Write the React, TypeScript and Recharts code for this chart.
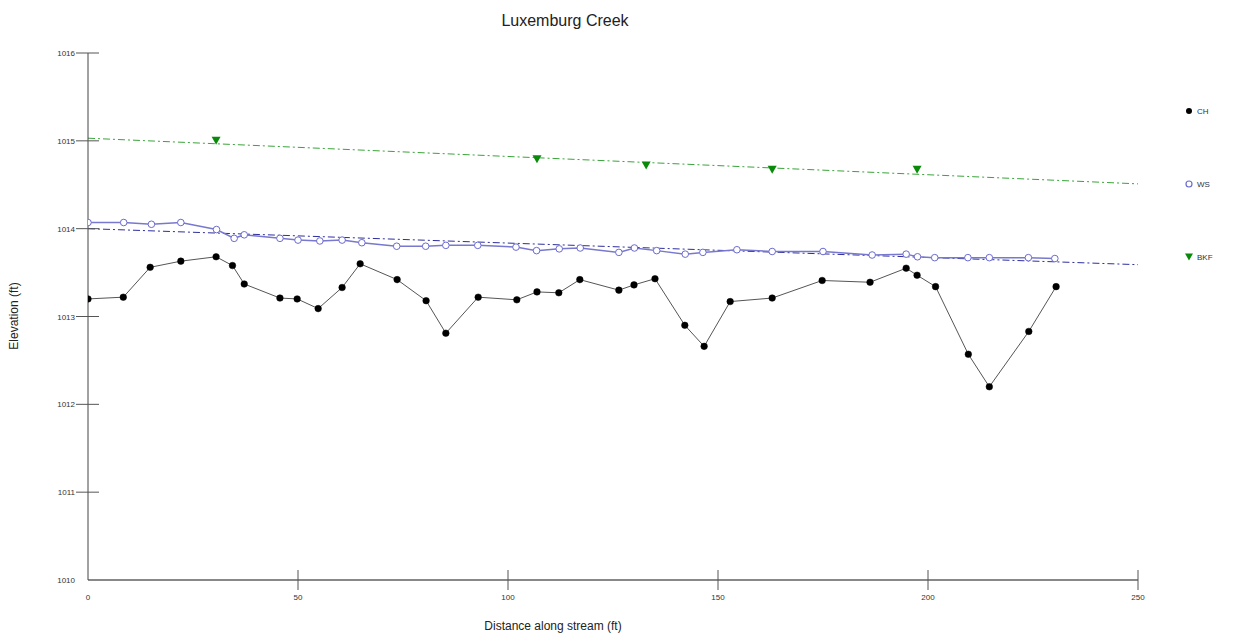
import React from "react";
import { LineChart, Line, XAxis, YAxis } from "recharts";

const chX = [0, 8.4, 14.8, 22.1, 30.5, 34.4, 37.2, 45.7, 49.8, 54.8, 60.5, 64.8, 73.6, 80.5, 85.2, 92.9, 102.1, 106.9, 112.1, 117.1, 126.4, 130.0, 135.0, 142.1, 146.7, 152.9, 162.9, 174.8, 186.2, 194.8, 197.4, 201.8, 209.6, 214.6, 224.0, 230.5];
const chY = [1013.2, 1013.22, 1013.56, 1013.63, 1013.68, 1013.58, 1013.37, 1013.21, 1013.2, 1013.09, 1013.33, 1013.6, 1013.42, 1013.18, 1012.81, 1013.22, 1013.19, 1013.28, 1013.27, 1013.42, 1013.3, 1013.36, 1013.43, 1012.9, 1012.66, 1013.17, 1013.21, 1013.41, 1013.39, 1013.55, 1013.47, 1013.34, 1012.57, 1012.2, 1012.83, 1013.34];

const wsX = [0, 8.5, 15.1, 22.1, 30.6, 34.8, 37.2, 45.7, 50.0, 55.2, 60.5, 65.2, 73.5, 80.4, 85.2, 92.8, 101.9, 106.8, 112.2, 117.2, 126.4, 130.1, 135.4, 142.2, 146.4, 154.5, 162.9, 175.0, 186.7, 194.8, 197.5, 201.6, 209.5, 214.6, 223.9, 230.2];
const wsY = [1014.07, 1014.07, 1014.05, 1014.07, 1013.99, 1013.89, 1013.93, 1013.89, 1013.87, 1013.86, 1013.87, 1013.84, 1013.8, 1013.8, 1013.81, 1013.81, 1013.79, 1013.75, 1013.77, 1013.78, 1013.73, 1013.78, 1013.75, 1013.71, 1013.73, 1013.76, 1013.74, 1013.74, 1013.7, 1013.71, 1013.68, 1013.67, 1013.67, 1013.67, 1013.67, 1013.66];

const bkfX = [30.5, 106.9, 132.9, 162.9, 197.4];
const bkfY = [1015.0, 1014.79, 1014.72, 1014.67, 1014.67];

const wsTrendX = [0, 250];
const wsTrendY = [1014.0, 1013.59];
const bkfTrendX = [0, 250];
const bkfTrendY = [1015.03, 1014.51];

const xTicks = [0, 50, 100, 150, 200, 250];
const yTicks = [1010, 1011, 1012, 1013, 1014, 1015, 1016];
const legendNames = ["CH", "WS", "BKF"];

const zip = (xs: number[], ys: number[]) => xs.map((x, i) => ({ x, y: ys[i] }));
const chData = zip(chX, chY);
const wsData = zip(wsX, wsY);
const bkfData = zip(bkfX, bkfY);
const wsTrend = zip(wsTrendX, wsTrendY);
const bkfTrend = zip(bkfTrendX, bkfTrendY);

const FONT = "'Liberation Sans', Arial, sans-serif";

const YTick = (props: any) => {
  const { x, y, payload, index } = props;
  return (
    <g>
      {index !== 0 && <line x1={x - 12} x2={x + 11} y1={y} y2={y} stroke="#555" strokeWidth={1} />}
      <text x={x - 13} y={y} dy={3} textAnchor="end" fontSize={8} fill="#333" fontFamily={FONT}>
        {payload.value}
      </text>
    </g>
  );
};

const XTick = (props: any) => {
  const { x, y, payload, index } = props;
  return (
    <g>
      {index !== 0 && <line x1={x} x2={x} y1={y - 10} y2={y + 10} stroke="#555" strokeWidth={1} />}
      <text x={x} y={y + 20} textAnchor="middle" fontSize={8} fill="#333" fontFamily={FONT}>
        {payload.value}
      </text>
    </g>
  );
};

const TriDot = (props: any) => {
  const { cx, cy } = props;
  if (cx == null || cy == null) return null;
  return <path d={`M${cx - 4.5},${cy - 4} L${cx + 4.5},${cy - 4} L${cx},${cy + 4} Z`} fill="#0a8a0a" />;
};

const LegendSvg = () => (
  <g>
    {legendNames.map((name, i) => {
      const cy = 111 + i * 73;
      const mx = 1189;
      return (
        <g key={name}>
          {i === 0 && <circle cx={mx} cy={cy} r={3} fill="#000" />}
          {i === 1 && <circle cx={mx} cy={cy} r={3} fill="#fff" stroke="#6b6bd0" strokeWidth={1.2} />}
          {i === 2 && <path d={`M${mx - 4},${cy - 3.5} L${mx + 4},${cy - 3.5} L${mx},${cy + 3.5} Z`} fill="#0a8a0a" />}
          <text x={mx + 8} y={cy + 3} fontSize={8} fill="#333" fontFamily={FONT}>{name}</text>
        </g>
      );
    })}
  </g>
);

export default function App() {
  return (
    <div style={{ position: "absolute", left: 0, top: 0, width: 1236, height: 633, background: "#fff", fontFamily: FONT }}>
      <LineChart width={1236} height={633} margin={{ top: 53, right: 98, left: 0, bottom: 0 }}>
        <text x={565} y={26} textAnchor="middle" fontSize={16} fill="#222" fontFamily={FONT}>Luxemburg Creek</text>
        <text x={553} y={630} textAnchor="middle" fontSize={12} fill="#222" fontFamily={FONT}>Distance along stream (ft)</text>
        <text x={18} y={316} textAnchor="middle" fontSize={12} fill="#222" fontFamily={FONT} transform="rotate(-90 18 316)">Elevation (ft)</text>
        <LegendSvg />
        <XAxis
          type="number"
          dataKey="x"
          domain={[0, 250]}
          ticks={xTicks}
          allowDataOverflow
          height={53}
          tickLine={false}
          tickSize={0}
          tickMargin={0}
          tick={<XTick />}
          axisLine={{ stroke: "#888", strokeWidth: 2 }}
        />
        <YAxis
          type="number"
          dataKey="y"
          domain={[1010, 1016]}
          ticks={yTicks}
          allowDataOverflow
          width={88}
          tickLine={false}
          tickSize={0}
          tickMargin={0}
          tick={<YTick />}
          axisLine={{ stroke: "#444", strokeWidth: 1 }}
        />
        <Line data={bkfTrend} dataKey="y" stroke="#3aa43a" strokeWidth={1} strokeDasharray="7 3 2 3" dot={false} isAnimationActive={false} legendType="none" />
        <Line data={wsTrend} dataKey="y" stroke="#2e2e9e" strokeWidth={1} strokeDasharray="7 3 2 3" dot={false} isAnimationActive={false} legendType="none" />
        <Line data={wsData} dataKey="y" name="WS" stroke="#7878d0" strokeWidth={1.5} dot={{ r: 3.3, fill: "#fff", stroke: "#6b6bd0", strokeWidth: 1 }} isAnimationActive={false} />
        <Line data={chData} dataKey="y" name="CH" stroke="#555" strokeWidth={1} dot={{ r: 3.3, fill: "#000", stroke: "#000", strokeWidth: 0.5 }} isAnimationActive={false} />
        <Line data={bkfData} dataKey="y" name="BKF" stroke="none" dot={<TriDot />} isAnimationActive={false} />
      </LineChart>
    </div>
  );
}
